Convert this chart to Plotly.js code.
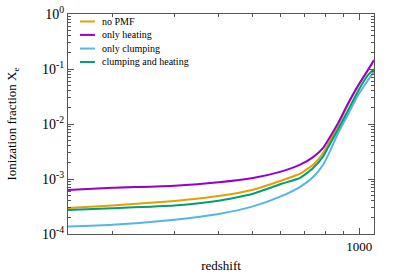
<!DOCTYPE html>
<html><head><meta charset="utf-8">
<script src="https://cdn.plot.ly/plotly-3.0.1.min.js"></script>
<style>html,body{margin:0;padding:0;background:#fff;overflow:hidden}</style>
</head><body><div id="chart" style="width:399px;height:279px"></div>
<script>
const redshift = [150, 200, 300, 400, 500, 600, 680, 740, 790, 817, 872, 931, 993, 1060, 1100];
const noPMF    = [2.97e-4, 3.3e-4, 4.0e-4, 4.9e-4, 6.4e-4, 9.3e-4, 1.25e-3, 1.82e-3, 2.97e-3, 4.38e-3, 9.7e-3, 0.0234, 0.0497, 0.097, 0.1416];
const onlyHeating = [6.3e-4, 6.9e-4, 7.55e-4, 8.7e-4, 1.04e-3, 1.36e-3, 1.82e-3, 2.5e-3, 3.67e-3, 5.18e-3, 0.0106, 0.0244, 0.0508, 0.099, 0.145];
const onlyClumping = [1.37e-4, 1.47e-4, 1.82e-4, 2.31e-4, 3.18e-4, 4.83e-4, 7.2e-4, 1.09e-3, 1.82e-3, 2.77e-3, 6.95e-3, 0.0154, 0.034, 0.0638, 0.09];
const clumpingHeating = [2.73e-4, 2.95e-4, 3.31e-4, 4.03e-4, 5.4e-4, 8.1e-4, 1.05e-3, 1.58e-3, 2.58e-3, 3.82e-3, 8.2e-3, 0.0182, 0.0403, 0.0788, 0.099];
const seriesNames = ['no PMF', 'only heating', 'only clumping', 'clumping and heating'];
const seriesValues = [noPMF, onlyHeating, onlyClumping, clumpingHeating];
const yTickVals = [1e-4, 1e-3, 1e-2, 1e-1, 1];
const yTickText = ['10<sup>-4</sup>', '10<sup>-3</sup>', '10<sup>-2</sup>', '10<sup>-1</sup>', '10<sup>0</sup>'];
const xTickVals = [1000];
const xTickText = ['1000'];

const colors = ['#E69F00', '#9400D3', '#56B4E9', '#009E73'];
const font = "'Liberation Serif', 'Times New Roman', serif";

const traces = seriesNames.map((name, i) => ({
  x: redshift, y: seriesValues[i], name: name, type: 'scatter', mode: 'lines',
  line: {color: colors[i], width: 2, shape: 'spline', smoothing: 0.5},
  showlegend: false
}));

// legend (drawn in paper coordinates)
const legY = [0.966, 0.905, 0.843, 0.782];
const shapes = seriesNames.map((n, i) => ({
  type: 'line', xref: 'paper', yref: 'paper', x0: 0.039, x1: 0.088, y0: legY[i], y1: legY[i],
  line: {color: colors[i], width: 2}
}));
const annotations = seriesNames.map((n, i) => ({
  xref: 'paper', yref: 'paper', x: 0.105, y: legY[i], xanchor: 'left', yanchor: 'middle',
  text: n, showarrow: false, font: {family: font, size: 10, color: '#000'}
}));

const axisCommon = {
  showline: true, linecolor: '#555', linewidth: 1, mirror: 'allticks',
  ticks: 'inside', tickcolor: '#555', showgrid: false, zeroline: false
};

const layout = {
  width: 399, height: 279,
  margin: {l: 68, r: 25, t: 14, b: 45},
  paper_bgcolor: '#fff', plot_bgcolor: '#fff',
  font: {family: font, color: '#000'},
  xaxis: Object.assign({}, axisCommon, {
    type: 'log', range: [Math.log10(150), Math.log10(1100)],
    tickmode: 'array', tickvals: xTickVals, ticktext: xTickText, ticklen: 6,
    tickfont: {family: font, size: 13, color: '#000'},
    minor: {ticks: 'inside', ticklen: 3, dtick: 'D1', tickcolor: '#555', showgrid: false},
    title: {text: 'redshift', font: {family: font, size: 13, color: '#000'}, standoff: 8}
  }),
  yaxis: Object.assign({}, axisCommon, {
    type: 'log', range: [-4, 0],
    tickmode: 'array', tickvals: yTickVals, ticktext: yTickText, ticklen: 6,
    tickfont: {family: font, size: 14, color: '#000'},
    minor: {ticks: 'inside', ticklen: 3, dtick: 'D1', tickcolor: '#555', showgrid: false},
    title: {text: 'Ionization fraction X<sub>e</sub>', font: {family: font, size: 13, color: '#000'}, standoff: 22}
  }),
  shapes: shapes,
  annotations: annotations,
  showlegend: false
};

Plotly.newPlot('chart', traces, layout, {displayModeBar: false, staticPlot: true});
</script>
</body></html>
